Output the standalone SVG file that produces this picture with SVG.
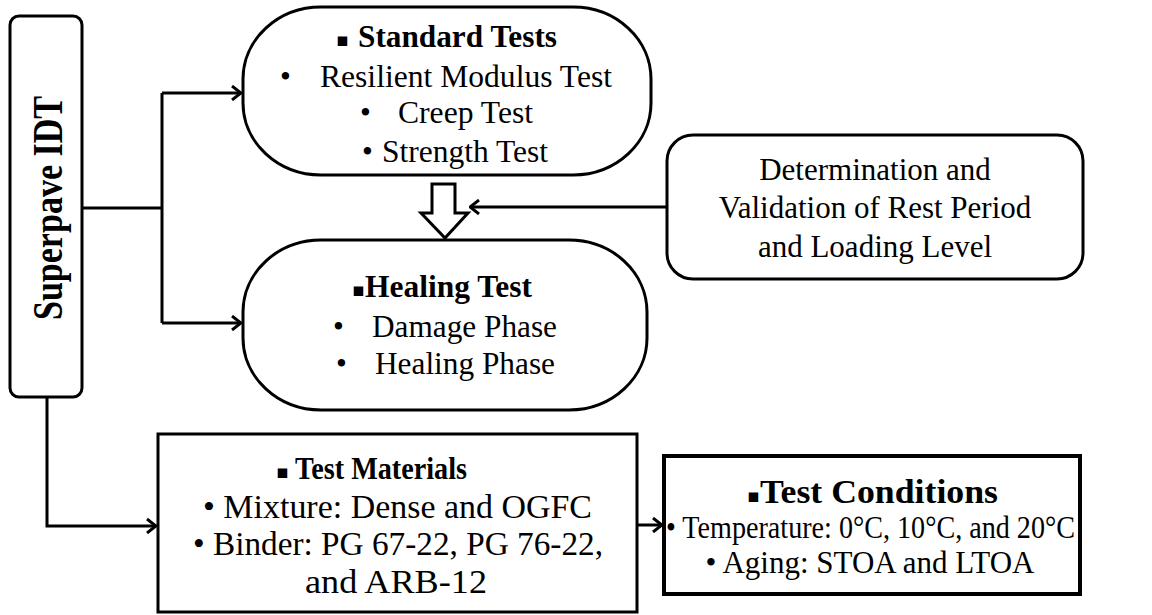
<svg xmlns="http://www.w3.org/2000/svg" width="1152" height="615" viewBox="0 0 1152 615">
<defs>
<style>
.box{fill:#fff;stroke:#000;stroke-width:3}
.t{font-family:"Liberation Serif","Times New Roman",serif;font-size:31px;fill:#000}
.b{font-weight:bold}
.c{text-anchor:middle}
.sq{font-family:"DejaVu Sans",sans-serif;font-size:19px;fill:#000}
.ln{fill:none;stroke:#000;stroke-width:3}
</style>
<marker id="ah" viewBox="0 0 12 16" refX="11" refY="8" markerWidth="12" markerHeight="16" markerUnits="userSpaceOnUse" orient="auto">
<path d="M2,1 L11,8 L2,15" fill="none" stroke="#000" stroke-width="3"/>
</marker>
</defs>
<rect width="1152" height="615" fill="#fff"/>
<g id="connectors">
<path class="ln" d="M82,208 H162 M162,93 V323"/>
<path class="ln" d="M162,93 H241" marker-end="url(#ah)"/>
<path class="ln" d="M162,323 H241" marker-end="url(#ah)"/>
<path class="ln" d="M47,397 V526 H156" marker-end="url(#ah)"/>
<path class="ln" d="M637,525 H662" marker-end="url(#ah)"/>
<path class="ln" d="M667,207 H470" marker-end="url(#ah)"/>
<polygon points="432,184 455,184 455,213 468,213 445,238 421,213 432,213" fill="#fff" stroke="#000" stroke-width="3"/>
</g>
<g id="superpave">
<rect class="box" x="10" y="16" width="72" height="381" rx="9"/>
<text class="t b c" transform="translate(62,208) rotate(-90)" textLength="224" lengthAdjust="spacingAndGlyphs" style="font-size:43px">Superpave IDT</text>
</g>
<g id="standard">
<rect class="box" x="243" y="7" width="408" height="168" rx="78" ry="72"/>
<text class="sq" x="336" y="46">▪</text>
<text class="t b" x="358" y="47" textLength="199" lengthAdjust="spacingAndGlyphs">Standard Tests</text>
<text class="t" x="280" y="87">•</text>
<text class="t" x="320" y="87" textLength="292" lengthAdjust="spacingAndGlyphs">Resilient Modulus Test</text>
<text class="t" x="360" y="123">•</text>
<text class="t" x="398" y="123" textLength="135" lengthAdjust="spacingAndGlyphs">Creep Test</text>
<text class="t" x="362" y="162">•</text>
<text class="t" x="382" y="162" textLength="166" lengthAdjust="spacingAndGlyphs">Strength Test</text>
</g>
<g id="healing">
<rect class="box" x="243" y="240" width="404" height="170" rx="78" ry="72"/>
<text class="sq" x="352" y="296">▪</text>
<text class="t b" x="365" y="297" textLength="167" lengthAdjust="spacingAndGlyphs">Healing Test</text>
<text class="t" x="333" y="337">•</text>
<text class="t" x="372" y="337" textLength="185" lengthAdjust="spacingAndGlyphs">Damage Phase</text>
<text class="t" x="336" y="374">•</text>
<text class="t" x="375" y="374" textLength="180" lengthAdjust="spacingAndGlyphs">Healing Phase</text>
</g>
<g id="determination">
<rect class="box" x="667" y="135" width="416" height="144" rx="26"/>
<text class="t c" x="875" y="180">Determination and</text>
<text class="t c" x="875" y="218">Validation of Rest Period</text>
<text class="t c" x="875" y="257">and Loading Level</text>
</g>
<g id="materials">
<rect class="box" x="158" y="434" width="479" height="178"/>
<text class="sq" x="276" y="478">▪</text>
<text class="t b" x="295" y="479" textLength="172" lengthAdjust="spacingAndGlyphs">Test Materials</text>
<text class="t" x="203" y="518" textLength="389" lengthAdjust="spacingAndGlyphs" style="font-size:33px">• Mixture: Dense and OGFC</text>
<text class="t" x="193" y="555" textLength="410" lengthAdjust="spacingAndGlyphs" style="font-size:33px">• Binder: PG 67-22, PG 76-22,</text>
<text class="t" x="305" y="593" textLength="182" lengthAdjust="spacingAndGlyphs" style="font-size:33px">and ARB-12</text>
</g>
<g id="conditions">
<rect class="box" x="664" y="456" width="416" height="138" style="stroke-width:4"/>
<text class="sq" x="747" y="502">▪</text>
<text class="t b" x="760" y="503" textLength="238" lengthAdjust="spacingAndGlyphs" style="font-size:33px">Test Conditions</text>
<text class="t" x="666" y="538" textLength="409" lengthAdjust="spacingAndGlyphs">• Temperature: 0°C, 10°C, and 20°C</text>
<text class="t c" x="870" y="573">• Aging: STOA and LTOA</text>
</g>
</svg>
